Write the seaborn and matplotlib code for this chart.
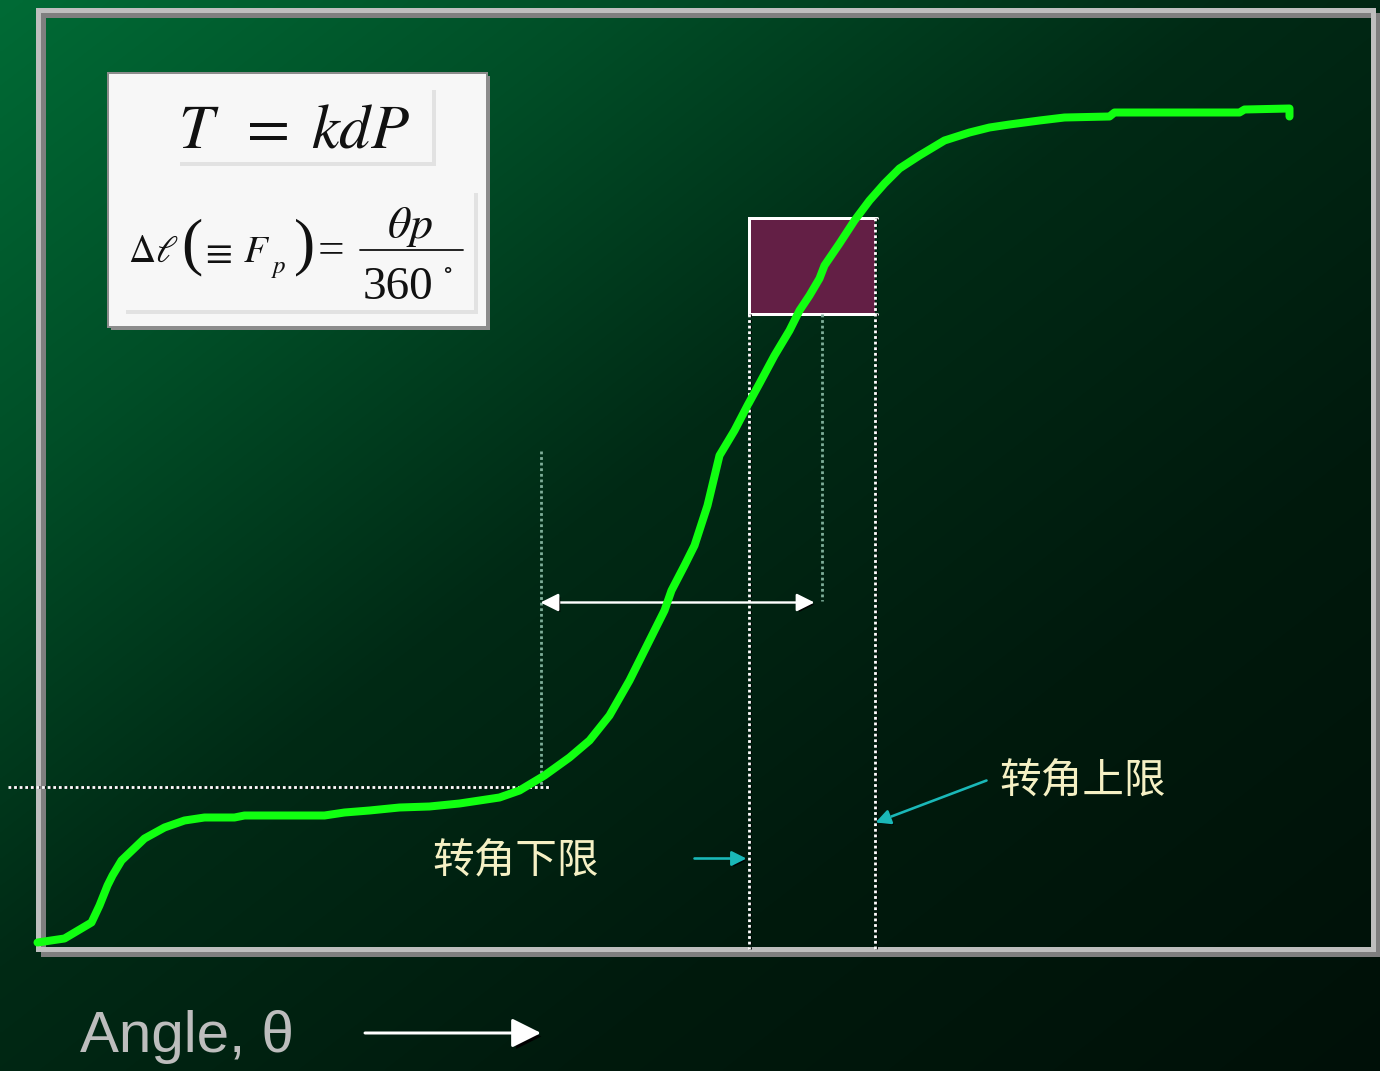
import numpy as np
import matplotlib
matplotlib.use("Agg")
import matplotlib.pyplot as plt
import matplotlib.patheffects as pe
from matplotlib.patches import Rectangle
import pandas as pd
import seaborn as sns

# Tightening curve: rotation angle vs. clamp torque (display units)
angle = [0, 27, 54, 62, 70, 75, 84, 107, 127, 147, 167, 197, 207, 287, 307, 332,
         362, 392, 422, 462, 482, 507, 532, 552, 572, 592, 607, 617, 627, 634, 647,
         657, 670, 682, 697, 710, 722, 737, 752, 762, 772, 782, 787, 802, 817, 832,
         847, 862, 882, 907, 932, 952, 972, 1002, 1027, 1072, 1077, 1112, 1202,
         1207, 1252, 1252]
torque = [6, 10, 26, 43, 63, 73, 88, 110, 121, 128, 131, 131, 133, 133, 136, 138,
          141, 142, 145, 151, 158, 173, 191, 208, 233, 268, 298, 318, 338, 358, 383,
          403, 443, 493, 518, 543, 565, 593, 618, 638, 653, 670, 683, 705, 728, 748,
          765, 780, 793, 808, 816, 821, 824, 828, 831, 832, 836, 836, 836,
          839, 840, 832]

# Snug point and the allowed rotation window
snug_angle = 503
snug_torque = 162
lower_limit_angle = 711
upper_limit_angle = 837
mid_angle = 784
band_low, band_high = 635, 731
span_level = 346
span_end = 777

lower_label = "转角下限"
upper_label = "转角上限"
x_label = "Angle, θ"

sns.set_style("white")
plt.rcParams['font.family'] = ['Noto Sans CJK SC', 'DejaVu Sans']
plt.rcParams['mathtext.fontset'] = 'stix'

W, H = 1380, 1071
fig = plt.figure(figsize=(13.8, 10.71), dpi=100)

# ---- background layer in pixel units ----
bg = fig.add_axes([0, 0, 1, 1])
yy, xx = np.mgrid[0:H:3, 0:W:3]
t = xx / W + yy / H
g = np.interp(t, [0, 0.45, 0.9, 1.4, 2.0], [107, 78, 42, 26, 16])
img = np.dstack([np.zeros_like(g), g, g * 0.5]) / 255.0
bg.imshow(img, extent=[0, W, H, 0], aspect='auto', interpolation='bilinear', zorder=0)
bg.set_xlim(0, W)
bg.set_ylim(H, 0)
bg.axis('off')

PX = 72.0 / 100.0  # points per pixel

# frame shadow
bg.add_patch(Rectangle((42.5, 14.5), 1335, 939, fill=False, ec='#7F7F7F',
                       lw=5 * PX, zorder=1))

# formula box
bg.add_patch(Rectangle((111, 76), 379, 254, fc='#8C8C8C', ec='none', zorder=2))
bg.add_patch(Rectangle((108, 73), 379, 254, fc='#F7F7F7', ec='#8C8C8C',
                       lw=2 * PX, zorder=2))
bg.plot([180, 434, 434], [164, 164, 90], color='#E2E2E2', lw=4 * PX, zorder=2.5,
        solid_joinstyle='miter', solid_capstyle='butt')
bg.plot([126, 476, 476], [312, 312, 193], color='#E2E2E2', lw=4 * PX, zorder=2.5,
        solid_joinstyle='miter', solid_capstyle='butt')

ink = '#111111'
bg.text(294, 147, r'$T\;\;=\;kdP$', fontsize=45, color=ink, ha='center',
        va='baseline', zorder=3)
bg.text(128, 262, r'$\Delta\ell$', fontsize=27, color=ink, ha='left',
        va='baseline', zorder=3)
bg.text(192, 247, '(', fontsize=46, color=ink, ha='center', va='center',
        family='Liberation Serif', zorder=3)
bg.text(200, 263, r'$\equiv$', fontsize=28, color=ink, ha='left',
        va='baseline', zorder=3)
bg.text(243, 262, r'$F$', fontsize=28, color=ink, ha='left', va='baseline', zorder=3)
bg.text(271, 273, r'$p$', fontsize=18, color=ink, ha='left', va='baseline', zorder=3)
bg.text(305, 247, ')', fontsize=46, color=ink, ha='center', va='center',
        family='Liberation Serif', zorder=3)
bg.text(318, 263, '=', fontsize=34, color=ink, ha='left', va='baseline',
        family='Liberation Serif', zorder=3)
bg.text(410, 238, r'$\theta p$', fontsize=33, color=ink, ha='center',
        va='baseline', zorder=3)
bg.plot([360, 463], [250, 250], color=ink, lw=1.8 * PX, zorder=3)
bg.text(398, 299, '360', fontsize=34, color=ink, ha='center', va='baseline',
        family='Liberation Serif', zorder=3)
bg.text(448, 274, r'$\circ$', fontsize=17, color=ink, ha='center',
        va='baseline', zorder=3)

# axis caption with arrow
bg.text(80, 1052, x_label, fontsize=42, color='#BDBDBD', ha='left', va='baseline',
        family=['Liberation Sans', 'DejaVu Sans'], zorder=3)
bg.annotate('', xy=(541, 1033), xytext=(365, 1033),
            arrowprops=dict(arrowstyle='-|>', color='white', lw=3 * PX,
                            mutation_scale=45, shrinkA=0, shrinkB=0,
                            path_effects=[pe.withSimplePatchShadow(
                                offset=(2.5, -2.5), shadow_rgbFace='black', alpha=1)]),
            zorder=3)

# ---- chart layer ----
ax = fig.add_axes([37.5 / W, (H - 948.5) / H, 1335 / W, 939 / H])
ax.patch.set_alpha(0)
ax.set_xlim(0, 1335)
ax.set_ylim(0, 939)
ax.set_xticks([])
ax.set_yticks([])
for s in ax.spines.values():
    s.set_visible(True)
    s.set_color('#BEBEBE')
    s.set_linewidth(5 * PX)

df = pd.DataFrame({'angle': angle, 'torque': torque})
sns.lineplot(data=df, x='angle', y='torque', sort=False, estimator=None,
             color='#11FF11', lw=8 * PX, ax=ax, zorder=6, legend=False)
curve = ax.lines[-1]
curve.set_solid_capstyle('round')
curve.set_solid_joinstyle('round')
curve.set_clip_on(False)

# torque/angle window
ax.add_patch(Rectangle((lower_limit_angle, band_low),
                       upper_limit_angle - lower_limit_angle, band_high - band_low,
                       fc='#631F45', ec='none', zorder=3))
ax.plot([upper_limit_angle + 2, lower_limit_angle, lower_limit_angle,
         upper_limit_angle + 2],
        [band_high, band_high, band_low, band_low], color='white', lw=3 * PX,
        solid_joinstyle='miter', zorder=4)

shadow = [pe.SimpleLineShadow(offset=(1.4, -0.7), shadow_color='black', alpha=1),
          pe.Normal()]
dots = (0, (1.0, 1.0))


def dotted(xs, ys, color='white', fx=True):
    ax.plot(xs, ys, color=color, lw=2.8 * PX, linestyle=dots, clip_on=False,
            zorder=4, path_effects=shadow if fx else None)


dotted([lower_limit_angle, lower_limit_angle], [band_low, 0])
dotted([upper_limit_angle, upper_limit_angle], [band_high, 0])
dotted([-30, snug_angle + 9], [snug_torque, snug_torque])
dotted([snug_angle, snug_angle], [498, snug_torque], color='#7FAF9A', fx=False)
dotted([mid_angle, mid_angle], [band_low, span_level + 2], color='#7FAF9A', fx=False)

arrow_fx = [pe.withSimplePatchShadow(offset=(1.5, -1.5), shadow_rgbFace='black',
                                     alpha=1)]
ax.annotate('', xy=(span_end, span_level), xytext=(snug_angle, span_level),
            arrowprops=dict(arrowstyle='<|-|>', color='white', lw=2.4 * PX,
                            mutation_scale=27, shrinkA=0, shrinkB=0,
                            path_effects=arrow_fx), zorder=5)

cyan = '#1AB8B8'
ax.annotate('', xy=(lower_limit_angle - 2, 90), xytext=(657, 90),
            arrowprops=dict(arrowstyle='-|>', color=cyan, lw=2.6 * PX,
                            mutation_scale=22, shrinkA=0, shrinkB=0,
                            path_effects=arrow_fx), zorder=5)
ax.annotate('', xy=(upper_limit_angle + 1, 126), xytext=(949, 168),
            arrowprops=dict(arrowstyle='-|>', color=cyan, lw=2.6 * PX,
                            mutation_scale=22, shrinkA=0, shrinkB=0,
                            path_effects=arrow_fx), zorder=5)

cream = '#F5F0C4'
ax.text(395, 86, lower_label, fontsize=30, color=cream, ha='left', va='center',
        fontweight='light', zorder=5)
ax.text(962, 166, upper_label, fontsize=30, color=cream, ha='left', va='center',
        fontweight='light', zorder=5)

fig.savefig('out.png', dpi=100)
